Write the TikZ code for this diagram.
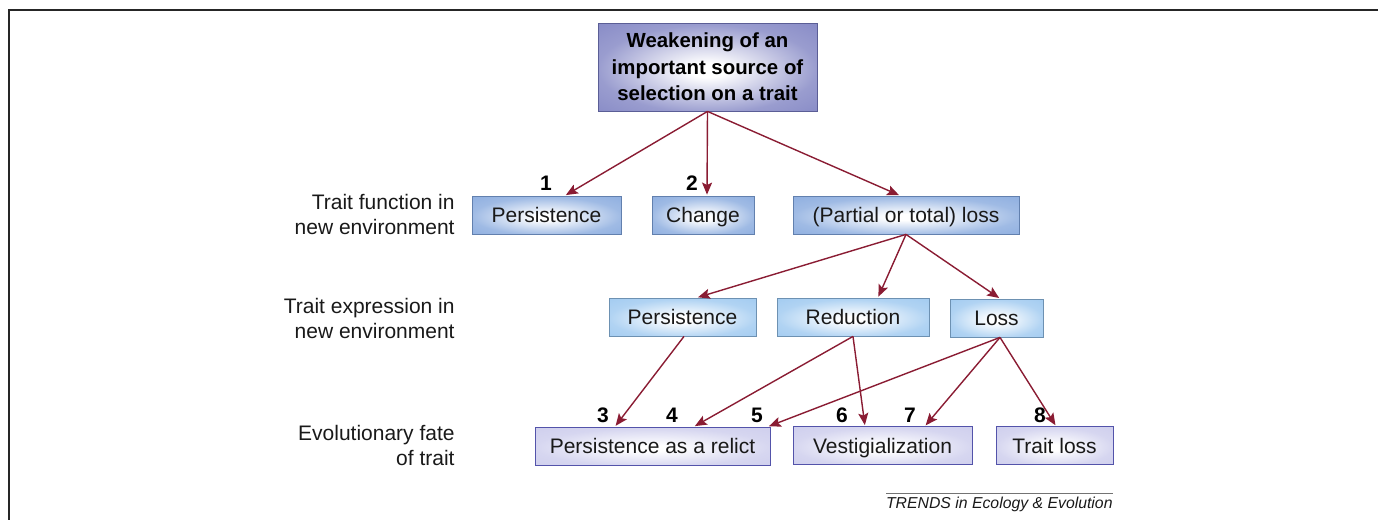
\documentclass[tikz,border=0pt]{standalone}
\usepackage{fontspec}
\setmainfont{Liberation Sans}
\usetikzlibrary{arrows.meta}
\definecolor{topc}{HTML}{7276BC}
\definecolor{funcc}{HTML}{7AA0DA}
\definecolor{exprc}{HTML}{92C2EE}
\definecolor{fatec}{HTML}{C6C6EA}
\definecolor{arrc}{HTML}{8A1C33}
\colorlet{topmid}{topc!72!white}
\colorlet{funcmid}{funcc!72!white}
\colorlet{exprmid}{exprc!72!white}
\colorlet{fatemid}{fatec!72!white}
\pgfdeclareradialshading{topshade}{\pgfpoint{0bp}{-2bp}}{color(0bp)=(white); color(4bp)=(white); color(25bp)=(topmid); color(50bp)=(topc)}
\pgfdeclareradialshading{funcshade}{\pgfpoint{0bp}{-3bp}}{color(0bp)=(white); color(4bp)=(white); color(25bp)=(funcmid); color(50bp)=(funcc)}
\pgfdeclareradialshading{exprshade}{\pgfpoint{0bp}{-3bp}}{color(0bp)=(white); color(4bp)=(white); color(25bp)=(exprmid); color(50bp)=(exprc)}
\pgfdeclareradialshading{fateshade}{\pgfpoint{0bp}{-3bp}}{color(0bp)=(white); color(4bp)=(white); color(25bp)=(fatemid); color(50bp)=(fatec)}
\begin{document}
\begin{tikzpicture}[x=0.5pt,y=-0.5pt,
  txt/.style={font=\fontsize{10.5}{12.5}\selectfont, text=black!90},
  basebox/.style={txt, inner sep=0pt, minimum height=19pt, text height=9.5pt, text depth=2pt, line width=0.4pt, shade},
  topbox/.style={shade, inner sep=0pt, text=black, draw=topc!80!black, shading=topshade, minimum width=109.5pt, minimum height=44pt,
     align=center, font=\bfseries\fontsize{10.2}{13.2}\selectfont},
  funcbox/.style={basebox, draw=funcc!80!black, shading=funcshade},
  exprbox/.style={basebox, draw=exprc!75!black, shading=exprshade},
  fatebox/.style={basebox, draw=fatec!60!blue!70!black, shading=fateshade},
  lab/.style={txt, align=right, anchor=east, inner sep=0pt},
  num/.style={font=\bfseries\fontsize{10.5}{12}\selectfont, inner sep=0pt, text=black},
  arr/.style={draw=arrc, line width=0.7pt, -{Stealth[length=6pt,width=5pt,inset=1.2pt]}, shorten >=0.5pt}]
\useasboundingbox (0,0) rectangle (1378,520);
% frame
\draw[line width=1pt, black!85] (1378,10) -- (9,10) -- (9,520);
% boxes
\node[topbox] (top) at (707.5,67) {Weakening of an\\important source of\\selection on a trait};
\node[funcbox, minimum width=74.5pt] (P1) at (546.5,215) {Persistence};
\node[funcbox, minimum width=51pt] (C) at (703,215) {Change};
\node[funcbox, minimum width=113pt] (L1) at (906,215) {(Partial or total) loss};
\node[exprbox, minimum width=73.5pt] (P2) at (682.5,317) {Persistence};
\node[exprbox, minimum width=76pt] (R) at (853,317) {Reduction};
\node[exprbox, minimum width=46.5pt] (L2) at (996.5,318) {Loss};
\node[fatebox, minimum width=117.5pt] (PR) at (652.5,446) {Persistence as a relict};
\node[fatebox, minimum width=89.5pt] (V) at (882.5,445.5) {Vestigialization};
\node[fatebox, minimum width=58.5pt] (TL) at (1054.5,445.5) {Trait loss};
% left labels
\node[lab] (lab1) at (455,214) {Trait function in\\new environment};
\node[lab] (lab2) at (455,318) {Trait expression in\\new environment};
\node[lab] (lab3) at (455,445) {Evolutionary fate\\of trait};
% numbers
\node[num] (n1) at (546,183) {1};
\node[num] (n2) at (692,183) {2};
\node[num] (n3) at (603,415) {3};
\node[num] (n4) at (672,415) {4};
\node[num] (n5) at (757,415) {5};
\node[num] (n6) at (842,415) {6};
\node[num] (n7) at (910,415) {7};
\node[num] (n8) at (1040,415) {8};
% arrows
\draw[arr] (top.south) -- ([xshift=9.25pt]P1.north);
\draw[arr] (top.south) -- ([xshift=2pt]C.north);
\draw[arr] (top.south) -- ([xshift=-3pt]L1.north);
\draw[arr] (L1.south) -- ([xshift=7.25pt]P2.north);
\draw[arr] (L1.south) -- ([xshift=12.5pt]R.north);
\draw[arr] (L1.south) -- ([xshift=1.75pt]L2.north);
\draw[arr] ([xshift=0.75pt]P2.south) -- ([xshift=-18.75pt]PR.north);
\draw[arr] (R.south) -- ([xshift=20.75pt]PR.north);
\draw[arr] (R.south) -- ([xshift=-8.75pt]V.north);
\draw[arr] ([xshift=1.75pt]L2.south) -- ([xshift=57.75pt]PR.north);
\draw[arr] ([xshift=1.75pt]L2.south) -- ([xshift=21.25pt]V.north);
\draw[arr] ([xshift=1.75pt]L2.south) -- ([xshift=0.75pt]TL.north);
% footer
\coordinate (fl) at (886,493);
\coordinate (fr) at (1113,493);
\draw[black!55, line width=0.5pt] (fl) -- (fr);
\node[anchor=north east, inner sep=0pt, font=\itshape\fontsize{7.9}{9}\selectfont, text=black!90] (foot) at (1113,497) {TRENDS in Ecology \& Evolution};
\end{tikzpicture}
\end{document}
